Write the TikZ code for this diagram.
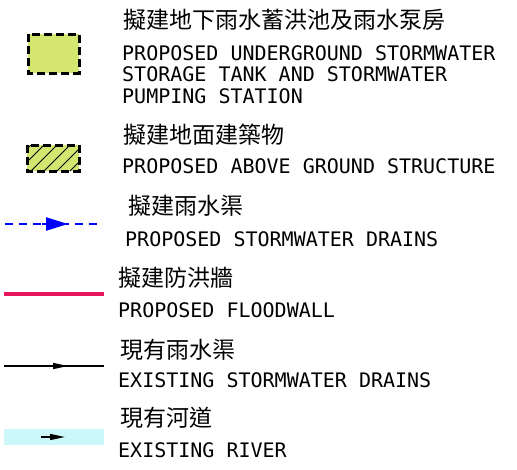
\documentclass[tikz,border=0pt]{standalone}
\usepackage{fontspec}
\newfontfamily\cjk{Noto Sans CJK TC}
\newfontfamily\legendfont{DejaVu Sans Mono}
\usepackage{xcolor}
\usepackage{tikz}
\usetikzlibrary{arrows.meta,positioning}
\definecolor{tankgreen}{RGB}{212,230,112}
\definecolor{floodred}{RGB}{232,22,92}
\definecolor{rivercyan}{RGB}{204,248,250}
\tikzstyle{zhLabel} = [anchor=west, inner sep=0pt, font=\cjk\fontsize{23}{23}\selectfont]
\tikzstyle{enLabel} = [anchor=north west, inner sep=0pt, align=left, font=\legendfont\fontsize{20}{21.5}\selectfont]
\tikzstyle{tankBox} = [draw, fill=tankgreen, line width=3pt, dash pattern=on 8pt off 4pt]
\tikzstyle{hatchLine} = [draw, line width=1pt]
\tikzstyle{newDrain} = [draw, blue, line width=2.4pt, dash pattern=on 8pt off 6pt]
\tikzstyle{newDrainTip} = [draw, blue, line width=2.4pt, -{Triangle[length=22pt,width=13pt]}]
\tikzstyle{floodwall} = [draw, floodred, line width=4pt]
\tikzstyle{oldDrain} = [draw, line width=1.4pt]
\tikzstyle{oldDrainTip} = [draw, line width=1.4pt, -{Triangle[length=15pt,width=6pt]}]

\begin{document}
\begin{tikzpicture}[x=1pt, y=-1pt]
    \useasboundingbox (0,0) rectangle (517,469);
    % Place nodes
    \node [zhLabel] (tankZh) at (123,20) {擬建地下雨水蓄洪池及雨水泵房};
    \node [enLabel] (tankEn) at (122,45) {PROPOSED UNDERGROUND STORMWATER\\STORAGE TANK AND STORMWATER\\PUMPING STATION};
    \node [zhLabel] (structZh) at (123,135) {擬建地面建築物};
    \node [enLabel] (structEn) at (122,158.5) {PROPOSED ABOVE GROUND STRUCTURE};
    \node [zhLabel] (drainZh) at (128,206) {擬建雨水渠};
    \node [enLabel] (drainEn) at (125,231.5) {PROPOSED STORMWATER DRAINS};
    \node [zhLabel] (wallZh) at (118,278) {擬建防洪牆};
    \node [enLabel] (wallEn) at (118,302.5) {PROPOSED FLOODWALL};
    \node [zhLabel] (oldZh) at (120,350) {現有雨水渠};
    \node [enLabel] (oldEn) at (118,372.5) {EXISTING STORMWATER DRAINS};
    \node [zhLabel] (riverZh) at (120,418) {現有河道};
    \node [enLabel] (riverEn) at (118,442.5) {EXISTING RIVER};

    % Draw symbols
    \path [tankBox] (28,34) rectangle (79,73);
    \fill [tankgreen] (27,145) rectangle (79,171);
    \begin{scope}
        \clip (27,145) rectangle (79,171);
        \foreach \x in {5,18,...,83}
            \path [hatchLine] (\x,171) -- ++(28,-28);
    \end{scope}
    \path [draw, line width=3pt, dash pattern=on 8pt off 4pt] (27,145) rectangle (79,171);

    \coordinate (drainA) at (5,224);
    \coordinate (drainB) at (100,224);
    \coordinate (drainTail) at (42,224);
    \coordinate (drainTip) at (68,224);
    \path [newDrain] (drainA) -- (drainB);
    \path [newDrainTip] (drainTail) -- (drainTip);

    \coordinate (wallA) at (4,294);
    \coordinate (wallB) at (104,294);
    \path [floodwall] (wallA) -- (wallB);

    \coordinate (oldA) at (4,366);
    \coordinate (oldB) at (104,366);
    \coordinate (oldTip) at (68,366);
    \path [oldDrain] (oldA) -- (oldB);
    \path [oldDrainTip] (oldA) -- (oldTip);

    \fill [rivercyan] (4,429) rectangle (104,445);
    \coordinate (riverTail) at (41,437);
    \coordinate (riverTip) at (65,437);
    \path [oldDrainTip] (riverTail) -- (riverTip);
\end{tikzpicture}
\end{document}
